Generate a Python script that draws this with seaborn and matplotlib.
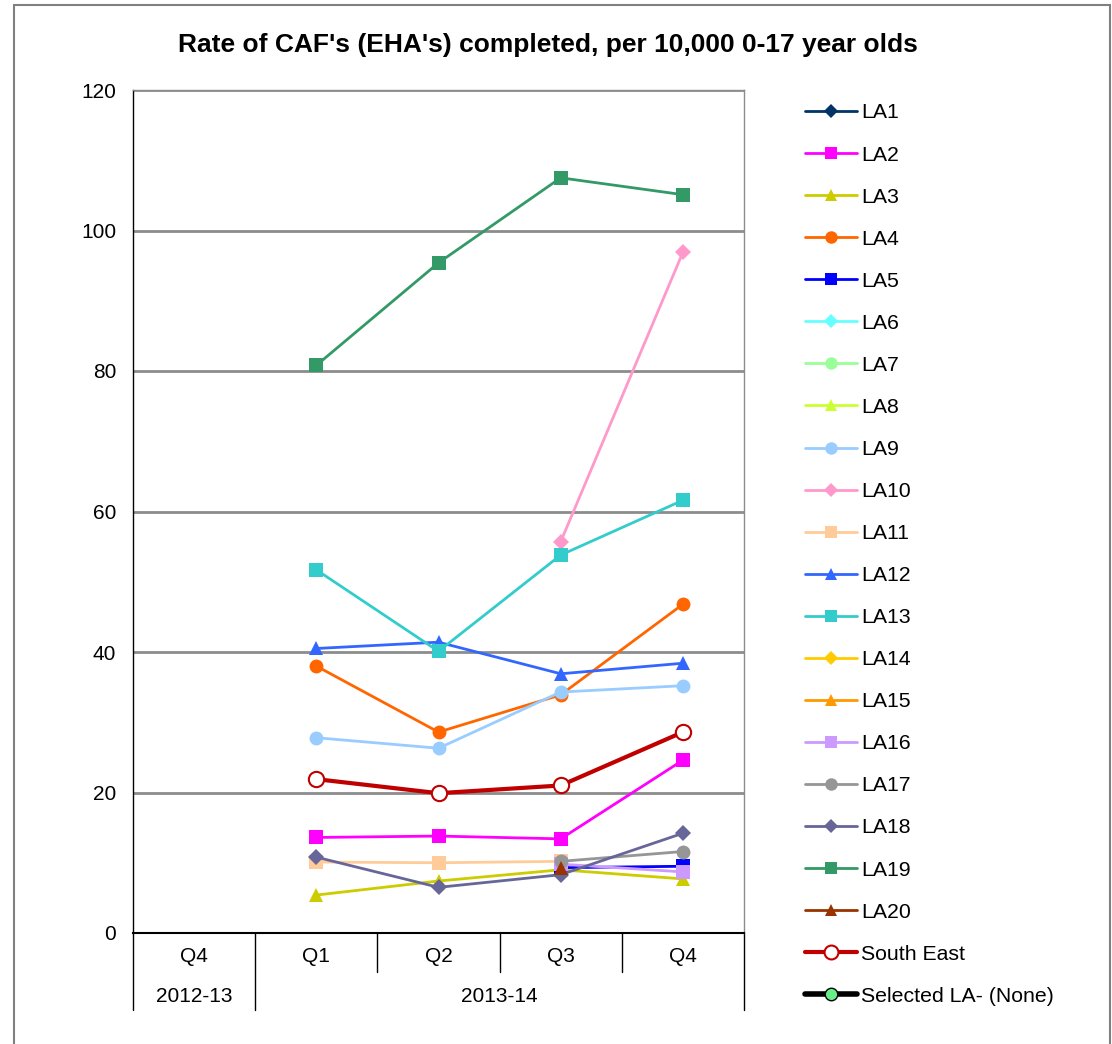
import numpy as np
import pandas as pd
import matplotlib
matplotlib.use("Agg")
import matplotlib.pyplot as plt
from matplotlib.lines import Line2D
from matplotlib.patches import Rectangle
import seaborn as sns

nan = np.nan

quarters = ["Q4", "Q1", "Q2", "Q3", "Q4"]
years = ["2012-13", "2013-14"]
year_spans = [(0, 1), (1, 5)]

# values, one list per authority
la1 = [nan, nan, nan, nan, nan]
la2 = [nan, 13.6, 13.8, 13.4, 24.6]
la3 = [nan, 5.4, 7.4, 9.0, 7.7]
la4 = [nan, 38.0, 28.6, 33.9, 46.8]
la5 = [nan, nan, nan, 9.3, 9.5]
la6 = [nan, nan, nan, nan, nan]
la7 = [nan, nan, nan, nan, nan]
la8 = [nan, nan, nan, nan, nan]
la9 = [nan, 27.8, 26.3, 34.3, 35.2]
la10 = [nan, nan, nan, 55.7, 96.9]
la11 = [nan, 10.1, 10.0, 10.2, nan]
la12 = [nan, 40.5, 41.4, 36.9, 38.4]
la13 = [nan, 51.7, 40.1, 53.8, 61.6]
la14 = [nan, nan, nan, nan, nan]
la15 = [nan, nan, nan, nan, nan]
la16 = [nan, nan, nan, 9.8, 8.7]
la17 = [nan, nan, nan, 10.2, 11.6]
la18 = [nan, 10.8, 6.5, 8.3, 14.2]
la19 = [nan, 80.8, 95.4, 107.5, 105.1]
la20 = [nan, nan, nan, 9.2, nan]
south_east = [nan, 21.9, 19.9, 21.0, 28.6]
selected = [nan, nan, nan, nan, nan]

series_names = ["LA1", "LA2", "LA3", "LA4", "LA5", "LA6", "LA7", "LA8", "LA9", "LA10",
                "LA11", "LA12", "LA13", "LA14", "LA15", "LA16", "LA17", "LA18", "LA19",
                "LA20", "South East", "Selected LA- (None)"]
series_values = [la1, la2, la3, la4, la5, la6, la7, la8, la9, la10, la11, la12, la13,
                 la14, la15, la16, la17, la18, la19, la20, south_east, selected]
colors = ["#003366", "#FF00FF", "#CCCC00", "#FF6600", "#0000FF", "#66FFFF", "#99FF99",
          "#CCFF33", "#99CCFF", "#FF99CC", "#FFCC99", "#3366FF", "#33CCCC", "#FFCC00",
          "#FF9900", "#CC99FF", "#969696", "#666699", "#339966", "#993300", "#C00000",
          "#000000"]
markers = ["D", "s", "^", "o", "s", "D", "o", "^", "o", "D", "s", "^", "s", "D", "^",
           "s", "o", "D", "s", "^", "o", "o"]

sns.set_theme(style="white")
plt.rcParams["font.family"] = ["Liberation Sans", "DejaVu Sans"]
plt.rcParams["text.color"] = "black"
plt.rcParams["ytick.labelcolor"] = "black"

fig = plt.figure(figsize=(11.12, 10.44), dpi=100)
W, H = 1112, 1044
x0, x1, y0, y1 = 133, 744, 90, 933
ax = fig.add_axes([x0 / W, 1 - y1 / H, (x1 - x0) / W, (y1 - y0) / H])

# outer chart border
fig.patches.append(Rectangle((14 / W, -0.01), (1110 - 14) / W, 1.01 - 5 / H,
                             transform=fig.transFigure, fill=False,
                             edgecolor="#808080", linewidth=1.5))

x = np.arange(len(quarters))
msize = {"D": 8, "s": 10, "^": 10, "o": 10}
for name, vals, col, mk in zip(series_names, series_values, colors, markers):
    df = pd.DataFrame({"x": x, "y": vals}).dropna()
    if df.empty:
        continue
    if name == "South East":
        sns.lineplot(data=df, x="x", y="y", ax=ax, color=col, linewidth=3,
                     marker="o", markersize=11, markerfacecolor="white",
                     markeredgecolor=col, markeredgewidth=1.5, zorder=5)
    else:
        sns.lineplot(data=df, x="x", y="y", ax=ax, color=col, linewidth=2,
                     marker=mk, markersize=msize[mk], markeredgecolor=col,
                     markeredgewidth=0, zorder=3)

ax.set_xlim(-0.5, len(quarters) - 0.5)
ax.set_ylim(0, 120)
ax.set_yticks(range(0, 121, 20))
ax.set_yticklabels([str(v) for v in range(0, 121, 20)], fontsize=15)
ax.tick_params(axis="y", length=6, width=1, color="#808080", direction="out", pad=6)
ax.set_xticks([])
ax.set_xlabel("")
ax.set_ylabel("")
ax.grid(axis="y", color="#8C8C8C", linewidth=2)
ax.set_axisbelow(True)
for side in ["top", "right"]:
    ax.spines[side].set_color("#8C8C8C")
    ax.spines[side].set_linewidth(1)
ax.spines["left"].set_color("black")
ax.spines["bottom"].set_color("black")
ax.spines["left"].set_linewidth(1)
ax.spines["bottom"].set_linewidth(1.5)

# two-level category axis
trans = ax.get_xaxis_transform()
row1 = -39 / (y1 - y0)
row2 = -77 / (y1 - y0)
year_starts = [s for s, _ in year_spans[1:]]
for i, q in enumerate(quarters):
    ax.text(i, -24 / (y1 - y0), q, transform=trans, ha="center", va="center", fontsize=15)
for b in range(1, len(quarters)):
    bottom = row2 if b in year_starts else row1
    ax.plot([b - 0.5, b - 0.5], [0, bottom], transform=trans, color="black",
            linewidth=1, clip_on=False)
for b in [-0.5, len(quarters) - 0.5]:
    ax.plot([b, b], [0, row2], transform=trans, color="black", linewidth=1, clip_on=False)
for yr, (s, e) in zip(years, year_spans):
    ax.text((s + e - 1) / 2, -64 / (y1 - y0), yr, transform=trans, ha="center",
            va="center", fontsize=15)

fig.text(548 / W, 1 - 45 / H, "Rate of CAF's (EHA's) completed, per 10,000 0-17 year olds",
         ha="center", va="center", fontsize=19, fontweight="bold")

# legend
handles = []
for name, col, mk in zip(series_names, colors, markers):
    if name == "South East":
        h = Line2D([], [], color=col, linewidth=3, marker="o", markersize=10,
                   markerfacecolor="white", markeredgecolor=col, markeredgewidth=1.5)
    elif name.startswith("Selected"):
        h = Line2D([], [], color="black", linewidth=4, marker="o", markersize=9,
                   markerfacecolor="#66EE88", markeredgecolor="black", markeredgewidth=1)
    else:
        h = Line2D([], [], color=col, linewidth=2, marker=mk,
                   markersize=msize[mk] * 0.9, markeredgewidth=0)
    handles.append(h)
fig.legend(handles, series_names, loc="upper left",
           bbox_to_anchor=(796 / W, 1 - 95 / H), frameon=False, fontsize=15.3,
           handlelength=2.45, handletextpad=0.2, labelspacing=1.085, borderaxespad=0)

fig.savefig("out.png", dpi=100, facecolor="white")
